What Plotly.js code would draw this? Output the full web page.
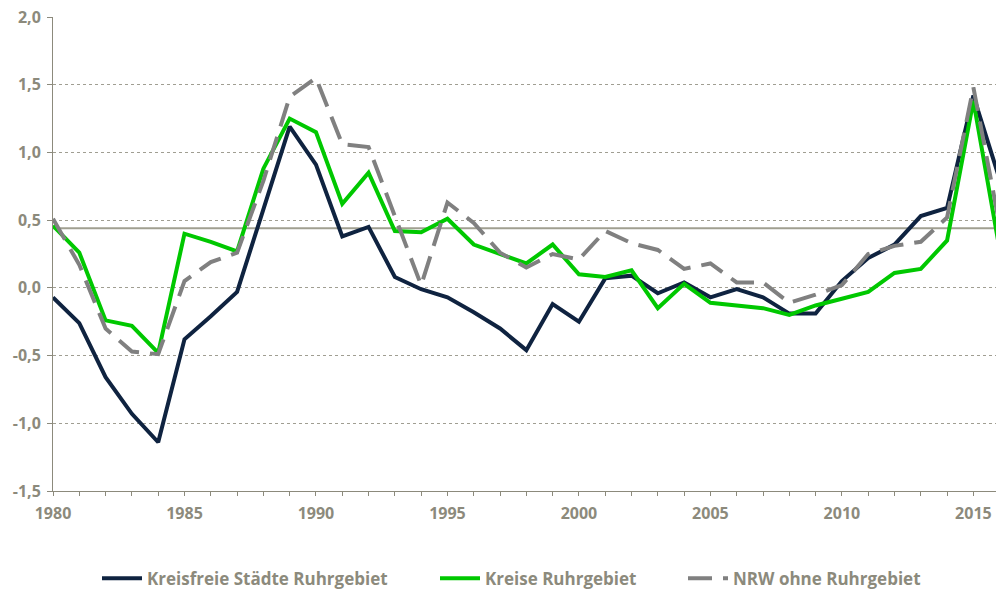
<!DOCTYPE html>
<html>
<head>
<meta charset="utf-8">
<script src="https://cdn.plot.ly/plotly-3.0.1.min.js"></script>
<style>html,body{margin:0;padding:0;background:#fff;}#chart{width:996px;height:590px;}</style>
</head>
<body>
<div id="chart"></div>
<script>
const years = [1980,1981,1982,1983,1984,1985,1986,1987,1988,1989,1990,1991,1992,1993,1994,1995,1996,1997,1998,1999,2000,2001,2002,2003,2004,2005,2006,2007,2008,2009,2010,2011,2012,2013,2014,2015,2016];
const kreisfreieStaedte = [-0.07,-0.26,-0.66,-0.93,-1.14,-0.38,-0.21,-0.03,0.58,1.19,0.91,0.38,0.45,0.08,-0.01,-0.07,-0.18,-0.30,-0.46,-0.12,-0.25,0.07,0.09,-0.04,0.04,-0.07,-0.01,-0.07,-0.19,-0.19,0.05,0.22,0.32,0.53,0.59,1.42,0.80];
const kreise = [0.46,0.26,-0.24,-0.28,-0.48,0.40,0.34,0.27,0.88,1.25,1.15,0.62,0.85,0.42,0.41,0.51,0.32,0.25,0.18,0.32,0.10,0.08,0.13,-0.15,0.03,-0.11,-0.13,-0.15,-0.20,-0.13,-0.08,-0.03,0.11,0.14,0.35,1.38,0.28];
const nrwOhneRuhr = [0.51,0.17,-0.30,-0.47,-0.49,0.05,0.19,0.26,0.79,1.41,1.55,1.06,1.04,0.53,0.02,0.63,0.48,0.26,0.15,0.25,0.21,0.42,0.33,0.28,0.14,0.18,0.04,0.04,-0.11,-0.05,0.02,0.25,0.31,0.34,0.52,1.48,0.46];
const referenceLevel = 0.44;
const seriesNames = ["Kreisfreie Städte Ruhrgebiet","Kreise Ruhrgebiet","NRW ohne Ruhrgebiet"];
const yTickVals = [-1.5,-1.0,-0.5,0.0,0.5,1.0,1.5,2.0];
const yTickText = ["-1,5","-1,0","-0,5","0,0","0,5","1,0","1,5","2,0"];
const xTickVals = [1980,1985,1990,1995,2000,2005,2010,2015];

const fam = "'Open Sans', Lato, sans-serif";
const gray = "#8c8a7c";
const tickFont = {family: fam, size: 16, color: gray, weight: 700};
const legFont = {family: fam, size: 17, color: gray, weight: 700};

const traces = [
  {x: years, y: kreisfreieStaedte, name: seriesNames[0], mode: "lines", line: {color: "#0f2340", width: 4}, legend: "legend"},
  {x: years, y: kreise, name: seriesNames[1], mode: "lines", line: {color: "#00c800", width: 4}, legend: "legend2"},
  {x: years, y: nrwOhneRuhr, name: seriesNames[2], mode: "lines", line: {color: "#808080", width: 4, dash: "24px,11px"}, legend: "legend3"}
];

function leg(px) {
  return {orientation: "h", x: (px - 53) / 943, xanchor: "left", y: -0.185, yanchor: "middle",
          font: legFont, itemwidth: 40, bgcolor: "rgba(0,0,0,0)"};
}

const layout = {
  width: 996, height: 590,
  font: {family: fam, size: 16, color: gray, weight: 700},
  margin: {l: 53, r: 0, t: 17, b: 99, autoexpand: false},
  paper_bgcolor: "#fff", plot_bgcolor: "#fff",
  showlegend: true,
  legend: leg(97), legend2: leg(435), legend3: leg(683),
  xaxis: {range: [1980, 2015.86], tickmode: "array", tickvals: xTickVals, showgrid: false, zeroline: false,
          showline: true, linecolor: gray, linewidth: 1,
          ticks: "outside", ticklen: 4, tickcolor: gray, ticklabelstandoff: 4,
          minor: {ticks: "outside", ticklen: 4, tickcolor: gray, dtick: 1, tick0: 1980},
          tickfont: tickFont, fixedrange: true, automargin: false},
  yaxis: {range: [-1.5, 2.0], tickmode: "array", tickvals: yTickVals, ticktext: yTickText,
          showgrid: true, gridcolor: "#a09e92", griddash: "dot", gridwidth: 1,
          zeroline: false, showline: true, linecolor: gray, linewidth: 1,
          ticks: "outside", ticklen: 5, tickcolor: gray, ticklabelstandoff: 3,
          tickfont: tickFont, fixedrange: true, automargin: false},
  shapes: [{type: "line", xref: "paper", x0: 0, x1: 1, yref: "y", y0: referenceLevel, y1: referenceLevel,
            line: {color: "#a09f90", width: 2}, layer: "below"}]
};

Plotly.newPlot("chart", traces, layout, {displayModeBar: false, staticPlot: true});
</script>
</body>
</html>
